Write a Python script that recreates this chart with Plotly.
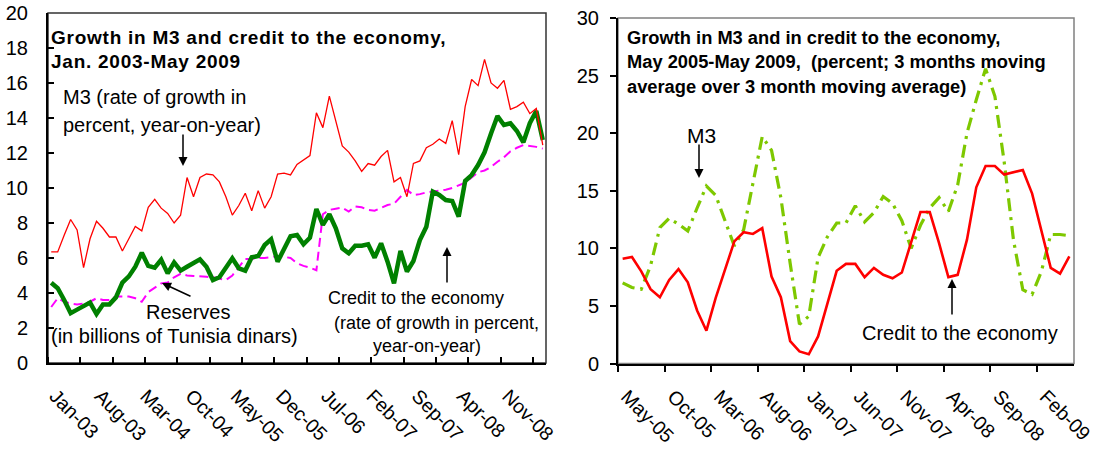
import plotly.graph_objects as go
import pandas as pd

W, H = 1108, 451
FONT = "Liberation Sans, Arial, sans-serif"

# ---------------- Left chart data (Jan-03 .. May-09) ----------------
left_months = list(pd.date_range("2003-01-01", periods=77, freq="MS").strftime("%b-%y"))
left_m3 = [6.35, 6.35, 7.3, 8.2, 7.6, 5.45, 7.1, 8.1, 7.7, 7.2,
           7.2, 6.4, 7.1, 7.8, 7.55, 8.9, 9.35, 8.85, 8.55, 8.0,
           8.45, 10.6, 9.5, 10.6, 10.8, 10.75, 10.35, 9.5, 8.45, 9.0,
           9.7, 8.7, 9.85, 8.85, 9.5, 10.8, 10.85, 10.75, 11.35, 11.6,
           11.85, 14.3, 13.45, 15.25, 13.9, 12.4, 12.05, 11.55, 10.95, 11.4,
           11.3, 11.8, 12.15, 10.35, 10.6, 9.5, 11.4, 11.55, 12.3, 12.5,
           12.8, 12.55, 13.85, 11.9, 14.65, 16.2, 15.85, 17.35, 16.0, 15.7,
           16.15, 14.5, 14.65, 14.9, 14.25, 14.55, 12.45]
left_credit = [4.59, 4.27, 3.6, 2.85, 3.05, 3.25, 3.45, 2.8, 3.35, 3.35,
               3.75, 4.6, 4.95, 5.5, 6.3, 5.55, 5.45, 5.9, 5.12, 5.75,
               5.28, 5.5, 5.7, 5.92, 5.5, 4.74, 4.9, 5.5, 5.98, 5.41,
               5.28, 6.04, 6.11, 6.74, 7.07, 5.79, 6.55, 7.24, 7.31, 6.78,
               7.16, 8.8, 7.89, 8.5, 7.69, 6.55, 6.27, 6.7, 6.7, 6.78,
               6.02, 6.84, 5.79, 4.55, 6.4, 5.22, 5.83, 7.03, 7.79, 9.79,
               9.6, 9.31, 9.26, 8.36, 10.4, 10.74, 11.31, 12.04, 13.12, 14.11,
               13.6, 13.7, 13.26, 12.61, 13.7, 14.4, 12.74]
left_reserves = [3.2, 3.7, 3.5, 3.4, 3.35, 3.4, 3.5, 3.7, 3.6, 3.6,
                 3.8, 3.8, 3.8, 3.7, 3.5, 4.05, 4.3, 4.55, 4.6, 4.9,
                 5.1, 5.0, 4.97, 4.97, 4.93, 4.9, 4.8, 4.74, 5.0, 5.5,
                 5.95, 5.95, 6.0, 6.0, 6.05, 6.1, 6.07, 6.0, 5.7, 5.55,
                 5.45, 5.3, 8.5, 8.75, 8.82, 8.88, 8.65, 8.95, 8.9, 8.75,
                 8.7, 8.85, 9.03, 9.1, 9.5, 9.89, 9.6, 9.65, 9.75, 9.8,
                 9.83, 9.9, 10.0, 10.15, 10.3, 10.6, 10.9, 11.0, 11.2, 11.5,
                 11.75, 12.1, 12.3, 12.45, 12.4, 12.35, 12.25]

# ---------------- Right chart data (May-05 .. May-09) ----------------
right_months = list(pd.date_range("2005-05-01", periods=49, freq="MS").strftime("%b-%y"))
right_credit = [9.1, 9.25, 8.0, 6.45, 5.75, 7.25, 8.2, 7.05, 4.6, 2.85,
                5.7, 8.1, 10.6, 11.4, 11.25, 11.75, 7.55, 5.75, 1.95, 1.05,
                0.8, 2.35, 5.15, 8.05, 8.65, 8.65, 7.5, 8.3, 7.7, 7.4,
                7.9, 10.6, 13.15, 13.15, 10.45, 7.5, 7.7, 10.75, 15.3, 17.15,
                17.15, 16.4, 16.6, 16.8, 14.75, 11.6, 8.3, 7.8, 9.3]
right_m3 = [7.0, 6.6, 6.45, 8.5, 11.8, 12.6, 12.1, 11.5, 13.5, 15.4,
            14.6, 12.3, 10.2, 11.6, 15.5, 19.7, 18.5, 14.4, 8.7, 3.4,
            4.1, 9.2, 11.0, 12.2, 12.2, 13.7, 12.3, 13.1, 14.5, 13.9,
            12.4, 10.0, 12.0, 13.5, 14.4, 13.2, 15.5, 20.0, 22.9, 25.6,
            23.2, 17.5, 10.7, 6.4, 6.0, 8.0, 11.2, 11.2, 11.1]

left_label_step = 7
right_label_step = 5
tick_step = 5

left_idx = list(range(len(left_months)))
right_idx = list(range(len(right_months)))


def fx(px):
    return px / W


def fy(py):
    return 1 - py / H


fig = go.Figure()
fig.add_trace(go.Scatter(x=left_idx, y=left_reserves, mode="lines", xaxis="x", yaxis="y",
                         line=dict(color="#FF00FF", width=2, dash="9px,5px"), hoverinfo="skip"))
fig.add_trace(go.Scatter(x=left_idx, y=left_credit, mode="lines", xaxis="x", yaxis="y",
                         line=dict(color="#008000", width=4.5), hoverinfo="skip"))
fig.add_trace(go.Scatter(x=left_idx, y=left_m3, mode="lines", xaxis="x", yaxis="y",
                         line=dict(color="#FF0000", width=1.3), hoverinfo="skip"))
fig.add_trace(go.Scatter(x=right_idx, y=right_m3, mode="lines", xaxis="x2", yaxis="y2",
                         line=dict(color="#7EC800", width=3.2, dash="13px,6px,3px,6px"), hoverinfo="skip"))
fig.add_trace(go.Scatter(x=right_idx, y=right_credit, mode="lines", xaxis="x2", yaxis="y2",
                         line=dict(color="#FF0000", width=2.6), hoverinfo="skip"))

tickfont = dict(family=FONT, size=20, color="black")
xfont = dict(family=FONT, size=19.5, color="black")

fig.update_layout(
    width=W, height=H, margin=dict(l=0, r=0, t=0, b=0, autoexpand=False),
    paper_bgcolor="white", plot_bgcolor="white", showlegend=False,
    font=dict(family=FONT, size=16, color="black"),
    xaxis=dict(domain=[fx(48), fx(546)], range=[-0.5, len(left_months) - 0.5], anchor="y",
               tickmode="array", tickvals=left_idx[::left_label_step],
               ticktext=left_months[::left_label_step], tickangle=45, ticks="",
               tickfont=xfont, ticklabelstandoff=12, ticklabelshift=4, automargin=False,
               ticklabeloverflow="allow",
               showline=True, linecolor="black", linewidth=2, showgrid=False, zeroline=False,
               minor=dict(ticks="inside", tickmode="linear", tick0=-0.5, dtick=tick_step,
                          ticklen=6, tickwidth=1.5, tickcolor="black", showgrid=False)),
    yaxis=dict(domain=[fy(363), fy(13)], range=[0, 20], dtick=2, anchor="x",
               ticks="inside", ticklen=6, tickwidth=1.5, tickcolor="black",
               tickfont=tickfont, ticklabelstandoff=14, automargin=False,
               ticklabeloverflow="allow",
               showline=True, linecolor="black", linewidth=2, showgrid=False, zeroline=False),
    xaxis2=dict(domain=[fx(618), fx(1074)], range=[-0.5, len(right_months) - 0.5], anchor="y2",
                tickmode="array", tickvals=right_idx[::right_label_step],
                ticktext=right_months[::right_label_step], tickangle=45, ticks="",
                tickfont=xfont, ticklabelstandoff=12, ticklabelshift=4, automargin=False,
                ticklabeloverflow="allow",
                showline=True, linecolor="black", linewidth=2, showgrid=False, zeroline=False,
                minor=dict(ticks="outside", tickmode="linear", tick0=-0.5, dtick=tick_step,
                           ticklen=6, tickwidth=1.5, tickcolor="black", showgrid=False)),
    yaxis2=dict(domain=[fy(363.5), fy(18)], range=[0, 30], dtick=5, anchor="x2",
                ticks="outside", ticklen=6, tickwidth=1.5, tickcolor="black",
                tickfont=tickfont, ticklabelstandoff=7, automargin=False,
                ticklabeloverflow="allow",
                showline=True, linecolor="black", linewidth=2, showgrid=False, zeroline=False),
)

# plot area borders (top/right)
fig.add_shape(type="rect", xref="x domain", yref="y domain", x0=0, x1=1, y0=0, y1=1,
              line=dict(color="#333333", width=1.5), layer="below")
fig.add_shape(type="rect", xref="x2 domain", yref="y2 domain", x0=0, x1=1, y0=0, y1=1,
              line=dict(color="#808080", width=1.5), layer="below")


def text(px, py, s, size=18, bold=False, spacing=0.0):
    body = s
    if spacing:
        body = '<span style="letter-spacing:%.2fpx">%s</span>' % (spacing, body)
    if bold:
        body = "<b>" + body + "</b>"
    fig.add_annotation(x=fx(px), y=fy(py), xref="paper", yref="paper", text=body,
                       showarrow=False, xanchor="left", yanchor="middle", borderpad=0,
                       font=dict(family=FONT, size=size, color="black"))


def arrow(tip_x, tip_y, tail_x, tail_y):
    fig.add_annotation(x=fx(tip_x), y=fy(tip_y), xref="paper", yref="paper", text="",
                       showarrow=True, ax=tail_x - tip_x, ay=tail_y - tip_y,
                       arrowhead=2, arrowsize=1.2, arrowwidth=1.5, arrowcolor="black")


# left chart texts
text(50, 37, "Growth in M3 and credit to the economy,", size=19, bold=True, spacing=0.75)
text(50, 62, "Jan. 2003-May 2009", size=19, bold=True, spacing=0.75)
text(62, 97, "M3 (rate of growth in", size=20)
text(62, 125, "percent, year-on-year)", size=20)
arrow(183, 166, 183, 133)
text(145, 312, "Reserves", size=20)
text(50, 336, "(in billions of Tunisia dinars)", size=20)
arrow(162, 283, 192, 297)
text(327, 298, "Credit to the economy", size=18)
text(333, 323, "(rate of growth in percent,", size=18)
text(372, 346, "year-on-year)", size=18)
arrow(447, 247, 447, 284)

# right chart texts
text(626, 38, "Growth in M3 and in credit to the economy,", size=18.3, bold=True)
text(626, 62, "May 2005-May 2009,\u00a0 (percent; 3 months moving", size=18.3, bold=True)
text(626, 86, "average over 3 month moving average)", size=18.3, bold=True)
text(686, 135, "M3", size=21)
arrow(699, 178, 699, 143)
text(861, 333, "Credit to the economy", size=20)
arrow(952, 279, 952, 316)

# the page's default 8px body margin would shift the 1108x451 figure off the window
fig.write_html("out.html", config={"displayModeBar": False},
               post_script="document.body.style.margin='0';")
